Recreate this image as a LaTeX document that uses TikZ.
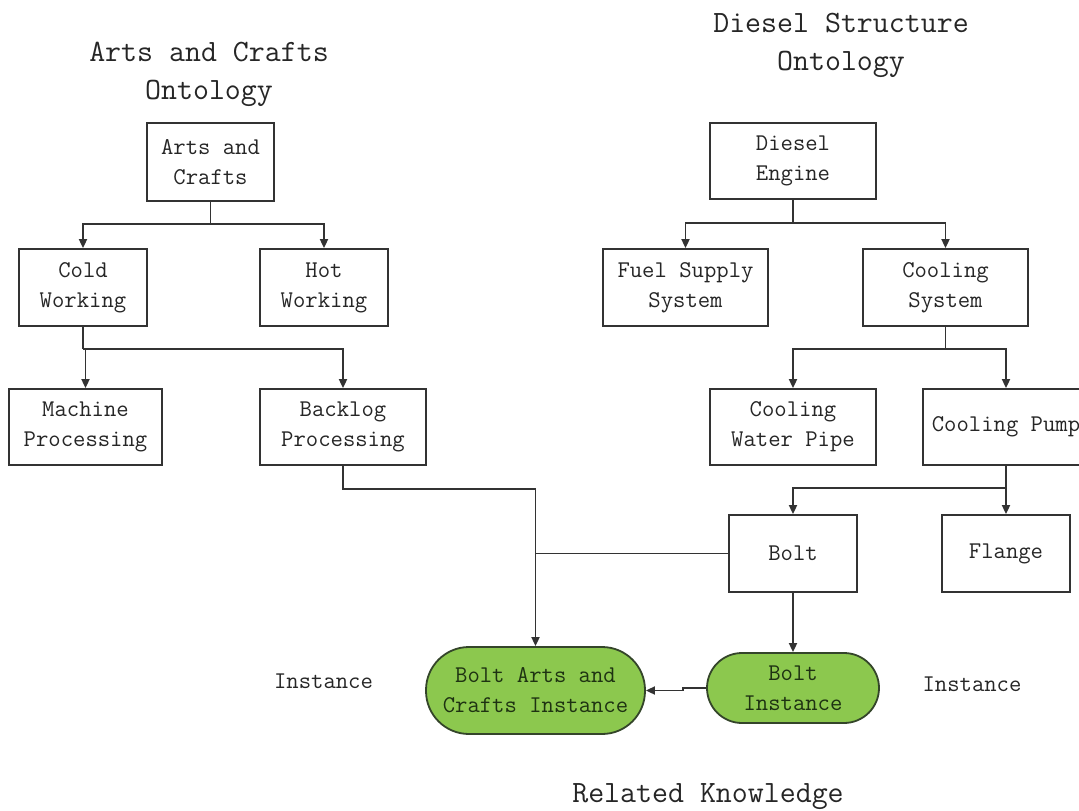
\documentclass[tikz,border=0pt]{standalone}
\usepackage{fontspec}
\usetikzlibrary{arrows.meta}
\definecolor{lgray}{HTML}{333333}
\definecolor{bgreen}{HTML}{8CC84E}
\definecolor{gborder}{HTML}{34452A}
\definecolor{gtext}{HTML}{1E3212}
\newcommand{\dfont}{\ttfamily\addfontfeatures{FakeBold=0.8}}
\tikzset{
  box/.style={draw=lgray, line width=1.8pt, inner sep=0pt, align=center,
    font=\dfont\fontsize{24}{30}\selectfont, text=black!85},
  pill/.style={draw=gborder, line width=1.8pt, fill=bgreen, inner sep=0pt, align=center,
    font=\dfont\fontsize{24}{30}\selectfont, text=gtext},
  title/.style={align=center, font=\dfont\fontsize{31}{38}\selectfont, text=black!85, inner sep=0pt},
  lbl/.style={font=\dfont\fontsize{24}{30}\selectfont, text=black!85, inner sep=0pt},
  conn/.style={draw=lgray, line width=1.8pt},
  arr/.style={conn, -{Triangle[length=9pt,width=8pt]}}
}
\begin{document}
\begin{tikzpicture}[x=1pt,y=-1pt]
\clip (0,0) rectangle (1079,811);
\fill[white] (0,0) rectangle (1079,811);
% titles
\node[title] (t1) at (209,74) {Arts and Crafts\\Ontology};
\node[title] (t2) at (841,45) {Diesel Structure\\Ontology};
% left tree
\node[box, minimum width=127pt, minimum height=78pt] (ac) at (210.5,162) {Arts and\\Crafts};
\node[box, minimum width=128pt, minimum height=77pt] (cold) at (83,287.5) {Cold\\Working};
\node[box, minimum width=128pt, minimum height=77pt] (hot) at (324,287.5) {Hot\\Working};
\node[box, minimum width=153pt, minimum height=76pt] (mach) at (85.5,427) {Machine\\Processing};
\node[box, minimum width=166pt, minimum height=76pt] (back) at (343,427) {Backlog\\Processing};
% right tree
\node[box, minimum width=166pt, minimum height=76pt] (de) at (793,161) {Diesel\\Engine};
\node[box, minimum width=165pt, minimum height=77pt] (fuel) at (685.5,287.5) {Fuel Supply\\System};
\node[box, minimum width=165pt, minimum height=77pt] (cs) at (945.5,287.5) {Cooling\\System};
\node[box, minimum width=166pt, minimum height=76pt] (cwp) at (793,427) {Cooling\\Water Pipe};
\node[box, minimum width=166pt, minimum height=76pt] (cp) at (1006,427) {Cooling Pump};
\node[box, minimum width=128pt, minimum height=77pt] (bolt) at (793,553.5) {Bolt};
\node[box, minimum width=128pt, minimum height=77pt] (flange) at (1006,553.5) {Flange};
% instances
\node[pill, minimum width=219pt, minimum height=87pt, rounded corners=43pt] (bac) at (535.5,690.5) {Bolt Arts and\\Crafts Instance};
\node[pill, minimum width=172pt, minimum height=70pt, rounded corners=35pt] (bi) at (793,688) {Bolt\\Instance};
% labels
\node[lbl] (l1) at (323.5,681) {Instance};
\node[lbl] (l2) at (972,684) {Instance};
\node[title] (t3) at (708,797) {Related Knowledge};
% junctions
\coordinate (j1) at (210.5,224);
\coordinate (j2) at (83,349);
\coordinate (j3) at (343,489);
\coordinate (j4) at (535.5,489);
\coordinate (j6) at (793,223);
\coordinate (j7) at (945.5,349);
\coordinate (j8) at (1006,488);
\coordinate (j9) at (683,688);
% connectors left
\draw[conn] (ac.south) -- (j1);
\draw[arr] (j1) -| (cold.north);
\draw[arr] (j1) -| (hot.north);
\draw[conn] (cold.south) -- (j2);
\draw[arr] (j2) -| (mach.north);
\draw[arr] (j2) -| (back.north);
\draw[conn] (back.south) -- (j3) -- (j4);
\draw[arr] (j4) -- (bac.north);
\draw[conn] (bolt.west) -- (bolt.west -| j4);
% connectors right
\draw[conn] (de.south) -- (j6);
\draw[arr] (j6) -| (fuel.north);
\draw[arr] (j6) -| (cs.north);
\draw[conn] (cs.south) -- (j7);
\draw[arr] (j7) -| (cwp.north);
\draw[arr] (j7) -| (cp.north);
\draw[conn] (cp.south) -- (j8);
\draw[arr] (j8) -| (bolt.north);
\draw[arr] (j8) -- (flange.north);
\draw[arr] (bolt.south) -- (bi.north);
\draw[arr] (bi.west) -- (j9) |- (bac.east);
\end{tikzpicture}
\end{document}
